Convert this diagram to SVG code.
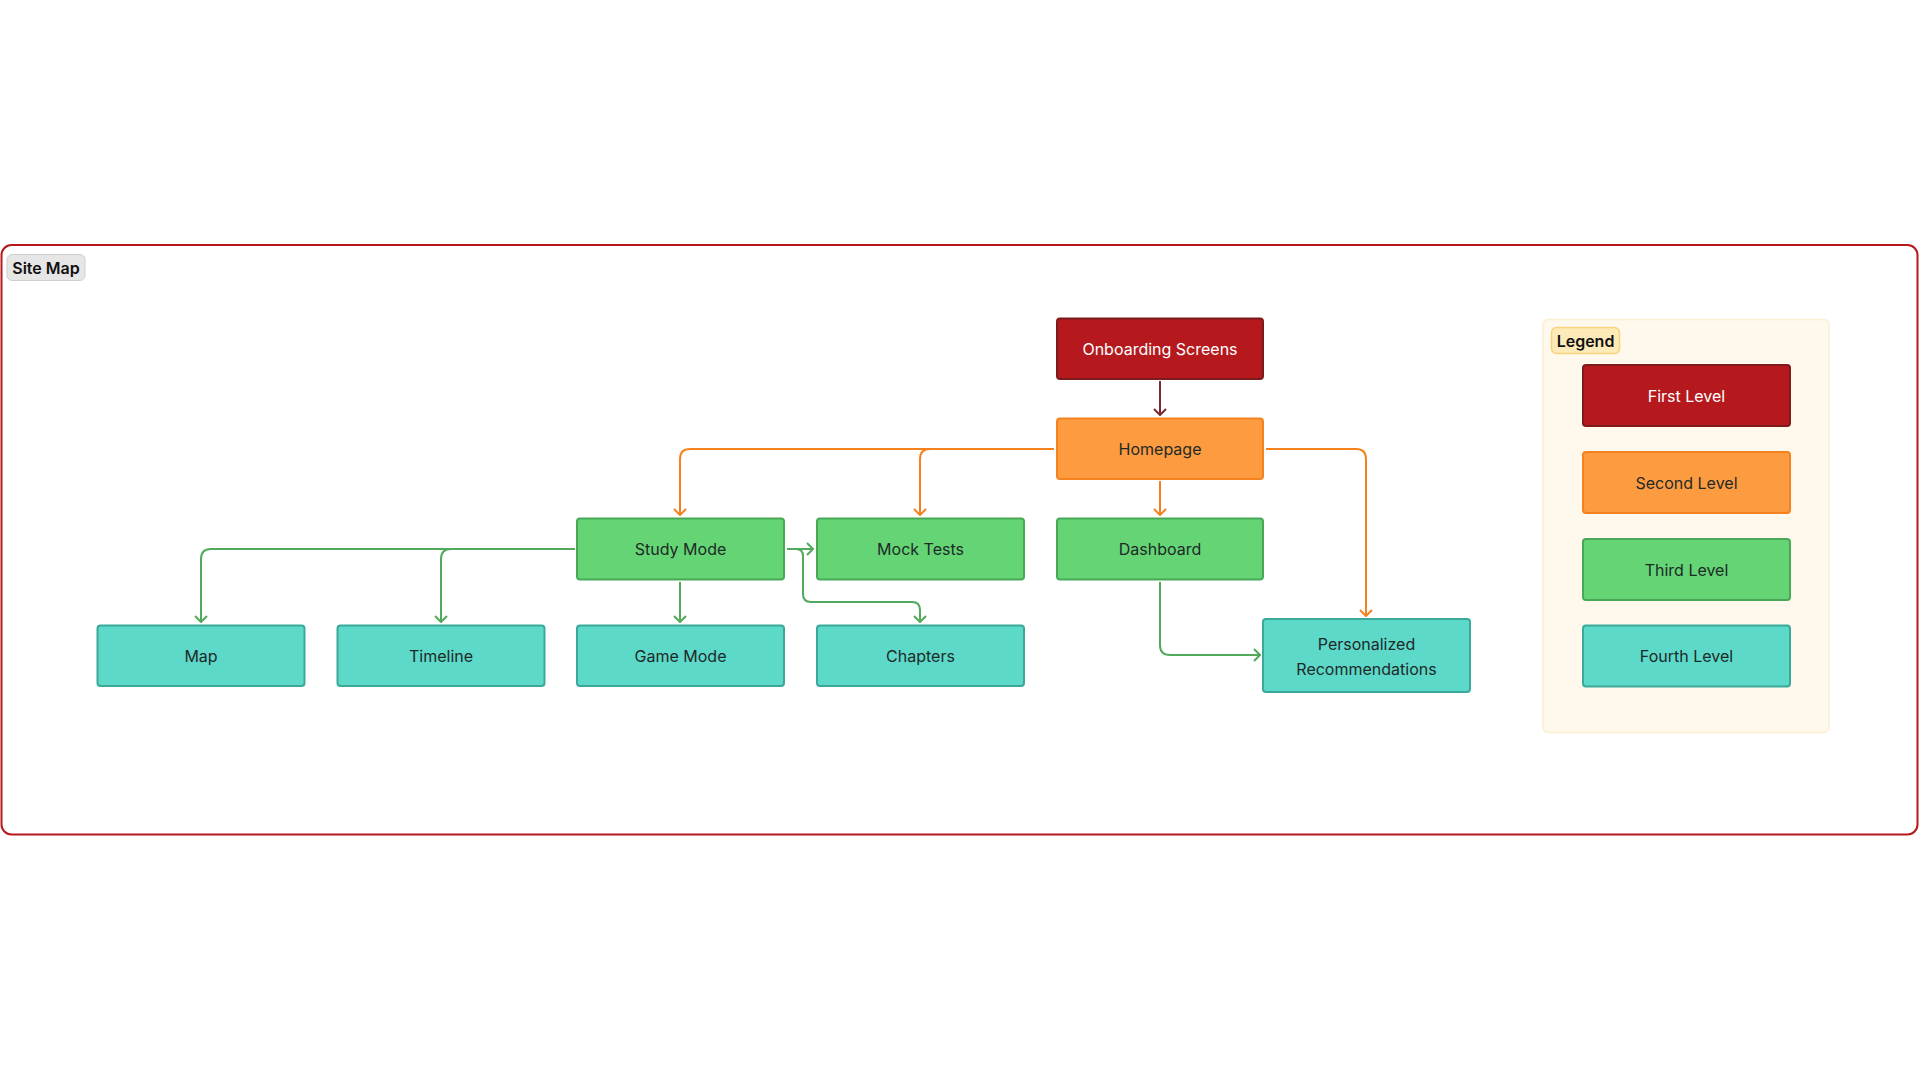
<svg xmlns="http://www.w3.org/2000/svg" width="1920" height="1080" viewBox="0 0 1920 1080">
<style>
text{font-family:Inter,"Noto Sans","Liberation Sans",sans-serif;font-size:16px;text-anchor:middle;dominant-baseline:central;fill:#1e2a28}
.n rect{stroke-width:2}
.red rect{fill:#b5191e;stroke:#7c1a1d}
.red text{fill:#ffffff}
.org rect{fill:#fd9b40;stroke:#f5821f}
.grn rect{fill:#64d474;stroke:#48a857}
.teal rect{fill:#5cd9c9;stroke:#3aa99a}
.c{fill:none;stroke-width:2}
.co{stroke:#f5821f}
.cg{stroke:#52a95c}
.cr{stroke:#7a2a2e}
</style>
<defs>
<marker id="ao" viewBox="0 0 8 14" refX="7" refY="7" markerWidth="8" markerHeight="14" markerUnits="userSpaceOnUse" orient="auto"><path d="M1,1 L7,7 L1,13" fill="none" stroke="#f5821f" stroke-width="2"/></marker>
<marker id="ag" viewBox="0 0 8 14" refX="7" refY="7" markerWidth="8" markerHeight="14" markerUnits="userSpaceOnUse" orient="auto"><path d="M1,1 L7,7 L1,13" fill="none" stroke="#52a95c" stroke-width="2"/></marker>
<marker id="ar" viewBox="0 0 8 14" refX="7" refY="7" markerWidth="8" markerHeight="14" markerUnits="userSpaceOnUse" orient="auto"><path d="M1,1 L7,7 L1,13" fill="none" stroke="#7a2a2e" stroke-width="2"/></marker>
</defs>
<rect width="1920" height="1080" fill="#ffffff"/>
<g id="frame">
<rect x="1.5" y="245" width="1916" height="589.5" rx="10" fill="none" stroke="#b5191e" stroke-width="2"/>
<rect x="7" y="254.5" width="78" height="26" rx="5" fill="#e6e6e6" stroke="#cfcfcf" stroke-width="1"/>
<text x="46" y="268" style="font-weight:600;fill:#111">Site Map</text>
</g>
<g id="legend">
<rect x="1543" y="319.5" width="286" height="413" rx="5" fill="#fef9ec" stroke="#fcefd3" stroke-width="1.5"/>
<rect x="1551.5" y="327.5" width="68" height="26" rx="5" fill="#fdeab9" stroke="#f8d47c" stroke-width="1.5"/>
<text x="1585.5" y="341" style="font-weight:600;fill:#111">Legend</text>
<g class="n red"><rect x="1583" y="365" width="207" height="61" rx="3"/><text x="1686.5" y="396">First Level</text></g>
<g class="n org"><rect x="1583" y="452" width="207" height="61" rx="3"/><text x="1686.5" y="483">Second Level</text></g>
<g class="n grn"><rect x="1583" y="539" width="207" height="61" rx="3"/><text x="1686.5" y="570">Third Level</text></g>
<g class="n teal"><rect x="1583" y="625.5" width="207" height="61" rx="3"/><text x="1686.5" y="656">Fourth Level</text></g>
</g>
<g id="connectors">
<path class="c cr" d="M1160,381 L1160,415" marker-end="url(#ar)"/>
<path class="c co" d="M1054,449 L690,449 Q680,449 680,459 L680,515" marker-end="url(#ao)"/>
<path class="c co" d="M1054,449 L930,449 Q920,449 920,459 L920,515" marker-end="url(#ao)"/>
<path class="c co" d="M1160,481 L1160,515" marker-end="url(#ao)"/>
<path class="c co" d="M1266,449 L1356,449 Q1366,449 1366,459 L1366,616" marker-end="url(#ao)"/>
<path class="c cg" d="M575,549 L211,549 Q201,549 201,559 L201,622" marker-end="url(#ag)"/>
<path class="c cg" d="M575,549 L451,549 Q441,549 441,559 L441,622" marker-end="url(#ag)"/>
<path class="c cg" d="M680,582 L680,622" marker-end="url(#ag)"/>
<path class="c cg" d="M787,549 L813,549" marker-end="url(#ag)"/>
<path class="c cg" d="M787,549 L796,549 Q803,549 803,556 L803,594 Q803,602 811,602 L912,602 Q920,602 920,610 L920,622" marker-end="url(#ag)"/>
<path class="c cg" d="M1160,582 L1160,645 Q1160,655 1170,655 L1260,655" marker-end="url(#ag)"/>
</g>
<g id="onboarding" class="n red"><rect x="1057" y="318.5" width="206" height="60.5" rx="3"/><text x="1160" y="349">Onboarding Screens</text></g>
<g id="homepage" class="n org"><rect x="1057" y="418.5" width="206" height="60.5" rx="3"/><text x="1160" y="449">Homepage</text></g>
<g id="study" class="n grn"><rect x="577" y="518.5" width="207" height="61" rx="3"/><text x="680.5" y="549">Study Mode</text></g>
<g id="mock" class="n grn"><rect x="817" y="518.5" width="207" height="61" rx="3"/><text x="920.5" y="549">Mock Tests</text></g>
<g id="dashboard" class="n grn"><rect x="1057" y="518.5" width="206" height="61" rx="3"/><text x="1160" y="549">Dashboard</text></g>
<g id="map" class="n teal"><rect x="97.5" y="625.5" width="207" height="60.5" rx="3"/><text x="201" y="656">Map</text></g>
<g id="timeline" class="n teal"><rect x="337.5" y="625.5" width="207" height="60.5" rx="3"/><text x="441" y="656">Timeline</text></g>
<g id="game" class="n teal"><rect x="577" y="625.5" width="207" height="60.5" rx="3"/><text x="680.5" y="656">Game Mode</text></g>
<g id="chapters" class="n teal"><rect x="817" y="625.5" width="207" height="60.5" rx="3"/><text x="920.5" y="656">Chapters</text></g>
<g id="personalized" class="n teal"><rect x="1263" y="619" width="207" height="73" rx="3"/><text x="1366.5" y="643.5">Personalized</text><text x="1366.5" y="668.5">Recommendations</text></g>
</svg>
